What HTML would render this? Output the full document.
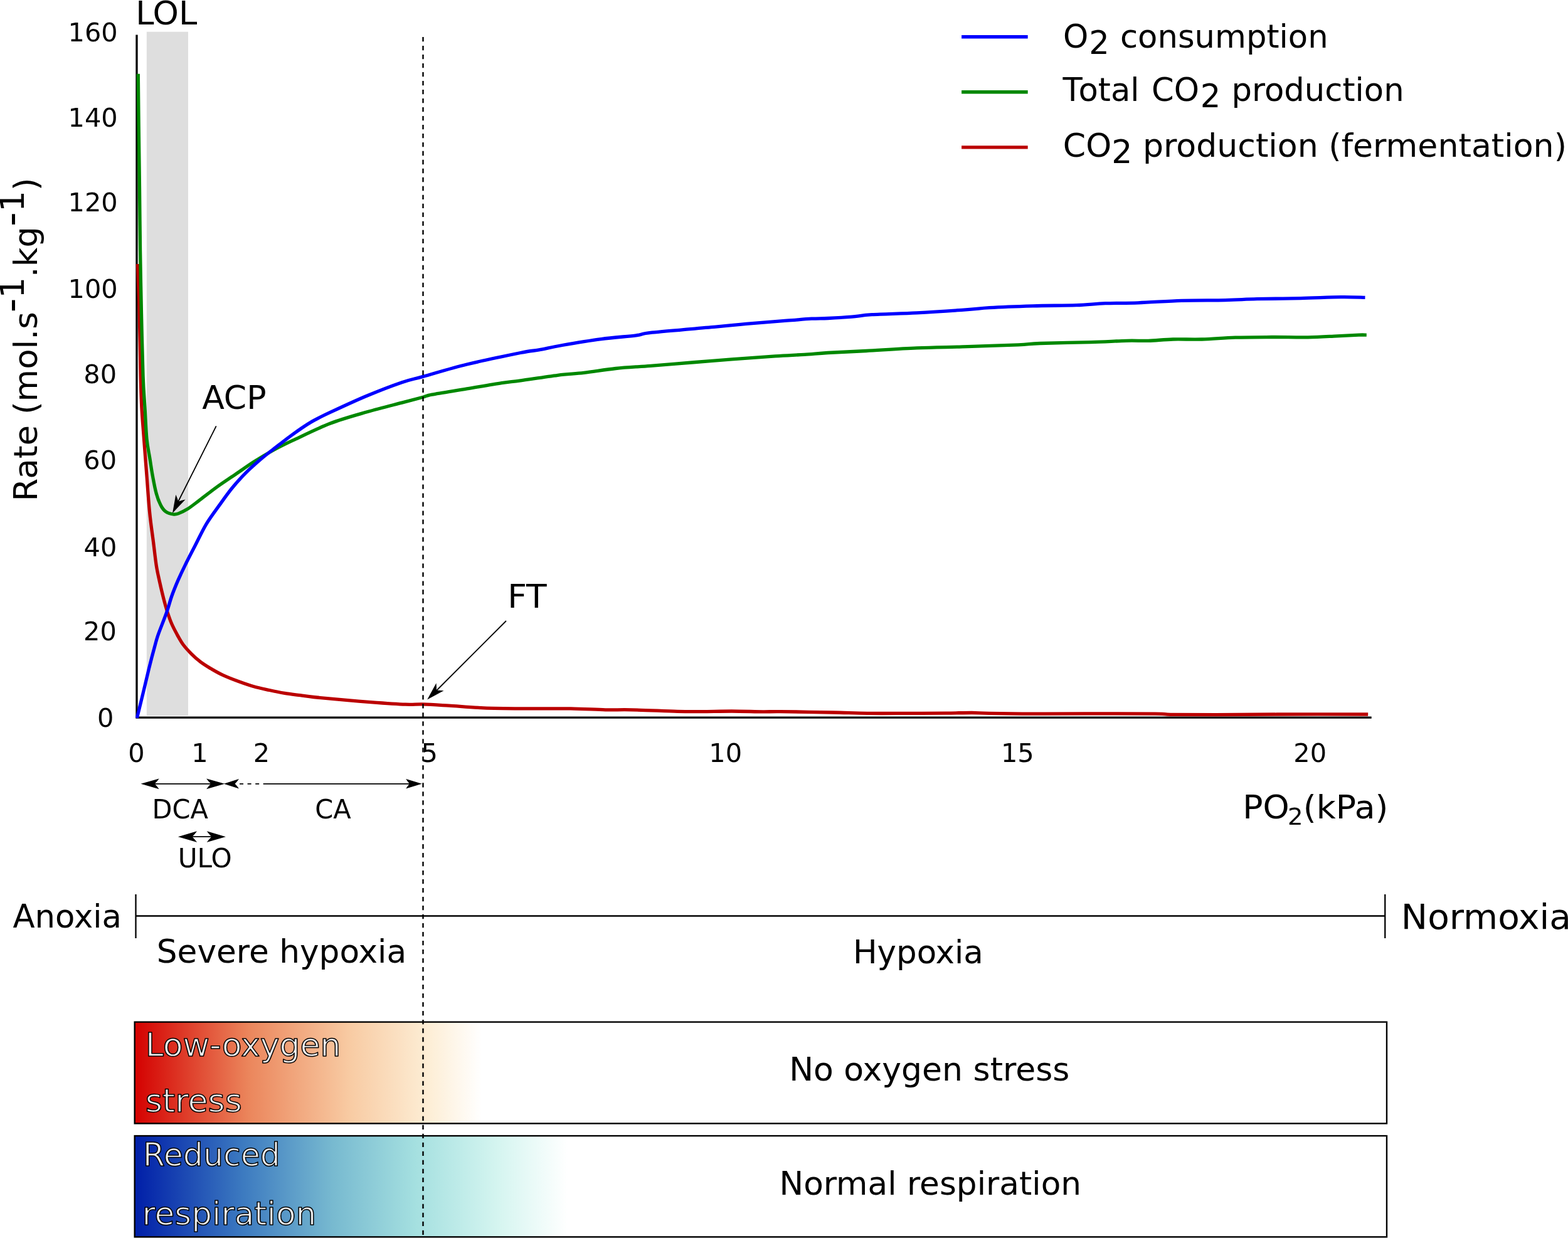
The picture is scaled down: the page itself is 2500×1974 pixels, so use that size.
<!DOCTYPE html>
<html lang="en"><head><meta charset="utf-8"><title>Respiration rate vs PO2</title>
<style>html,body{margin:0;padding:0;background:#fff;overflow:hidden}svg{display:block}text{font-family:"DejaVu Sans","Liberation Sans",sans-serif;fill:#000}.nk{font-kerning:none}.g{fill:#ececec;stroke:#000;stroke-width:1.5px;stroke-linejoin:round}</style></head><body>
<svg width="2500" height="1974" viewBox="0 0 2500 1974">
<defs>
<linearGradient id="gr" x1="214" x2="768" y1="0" y2="0" gradientUnits="userSpaceOnUse"><stop offset="0" stop-color="#d40000"/><stop offset="0.33" stop-color="#eb865c"/><stop offset="0.62" stop-color="#f8cba3"/><stop offset="0.85" stop-color="#fdeed6"/><stop offset="1" stop-color="#ffffff"/></linearGradient>
<linearGradient id="gb" x1="214" x2="905" y1="0" y2="0" gradientUnits="userSpaceOnUse"><stop offset="0" stop-color="#001ea8"/><stop offset="0.25" stop-color="#3c7ac0"/><stop offset="0.46" stop-color="#78bad0"/><stop offset="0.65" stop-color="#a5e0e0"/><stop offset="0.84" stop-color="#d5f5f0"/><stop offset="1" stop-color="#ffffff"/></linearGradient>
</defs>
<rect width="2500" height="1974" fill="#fff"/>
<rect x="233.8" y="50.7" width="66.2" height="1090.4" fill="#dedede"/>
<path d="M218 55.5V1144.1H2186.7" fill="none" stroke="#000" stroke-width="3.3" stroke-linejoin="miter"/>
<path d="M219.5 421.0C219.9 434.2 221.4 470.2 222.2 500.0C223.0 529.8 223.6 575.0 224.2 600.0C224.8 625.0 225.0 633.3 225.9 650.0C226.8 666.7 228.2 681.9 229.5 700.0C230.8 718.1 232.5 739.0 234.0 758.5C235.5 778.0 236.8 799.4 238.6 817.0C240.3 834.6 242.7 850.0 244.5 864.0C246.3 878.0 247.6 891.0 249.2 901.3C250.8 911.6 252.2 917.1 254.1 925.9C256.0 934.6 258.5 945.3 260.7 953.8C262.9 962.3 265.0 969.9 267.2 976.7C269.4 983.5 271.3 989.1 273.8 994.8C276.3 1000.5 279.0 1005.6 282.0 1011.1C285.0 1016.6 288.0 1022.3 291.8 1027.5C295.6 1032.7 300.2 1037.6 304.9 1042.3C309.5 1047.0 314.5 1051.4 319.7 1055.4C324.9 1059.4 330.1 1062.5 336.1 1066.1C342.1 1069.6 348.3 1073.3 355.7 1076.7C363.1 1080.1 372.1 1083.6 380.3 1086.6C388.5 1089.6 396.7 1092.5 404.9 1094.8C413.1 1097.1 421.3 1098.7 429.5 1100.5C437.7 1102.3 445.9 1104.0 454.1 1105.4C462.3 1106.8 471.1 1107.7 478.7 1108.7C486.3 1109.7 490.5 1110.5 500.0 1111.5C509.5 1112.5 520.3 1113.6 535.5 1114.9C550.7 1116.2 572.5 1118.2 591.0 1119.6C609.5 1121.0 632.5 1122.7 646.4 1123.2C660.3 1123.8 662.6 1122.6 674.2 1122.9C685.8 1123.2 699.6 1124.2 715.8 1125.2C732.0 1126.2 750.5 1128.0 771.3 1128.8C792.1 1129.6 817.5 1129.7 840.6 1129.9C863.7 1130.1 889.2 1129.6 910.0 1129.9C930.8 1130.2 949.2 1131.5 965.4 1131.8C981.6 1132.1 987.9 1131.4 1007.0 1131.8C1026.1 1132.2 1061.3 1133.8 1080.0 1134.3C1098.7 1134.8 1104.9 1134.6 1119.3 1134.6C1133.7 1134.5 1150.3 1134.0 1166.5 1134.0C1182.7 1134.0 1203.5 1134.8 1216.4 1134.9C1229.4 1135.0 1225.7 1134.4 1244.2 1134.6C1262.7 1134.8 1304.3 1135.5 1327.4 1136.0C1350.5 1136.5 1364.4 1137.2 1382.9 1137.4C1401.4 1137.6 1417.5 1137.5 1438.3 1137.4C1459.1 1137.4 1489.2 1137.2 1507.7 1137.1C1526.2 1136.9 1537.8 1136.5 1549.3 1136.5C1560.8 1136.5 1560.2 1137.1 1577.0 1137.4C1593.8 1137.7 1624.3 1138.1 1650.0 1138.2C1675.7 1138.3 1699.0 1137.9 1731.0 1137.9C1763.0 1137.9 1818.8 1138.0 1841.9 1138.2C1865.0 1138.4 1853.5 1139.1 1869.7 1139.3C1885.9 1139.5 1911.3 1139.6 1939.0 1139.6C1966.7 1139.5 1995.7 1139.1 2036.1 1139.0C2076.5 1138.9 2157.0 1139.0 2181.2 1139.0" fill="none" stroke="#bb0000" stroke-width="5.3" stroke-linejoin="round"/>
<path d="M220.3 117.8C220.5 131.5 220.8 169.6 221.2 200.0C221.6 230.4 222.1 266.7 222.5 300.0C222.9 333.3 223.1 366.7 223.6 400.0C224.1 433.3 224.8 466.7 225.5 500.0C226.2 533.3 227.2 575.0 228.1 600.0C229.0 625.0 230.0 633.3 231.0 650.0C232.0 666.7 232.7 686.8 234.0 700.0C235.3 713.2 237.0 719.5 238.6 729.3C240.2 739.0 241.5 748.9 243.3 758.5C245.1 768.1 247.0 778.9 249.2 786.7C251.3 794.5 253.7 800.5 256.2 805.4C258.7 810.3 261.1 813.5 264.4 815.9C267.7 818.3 272.8 819.5 276.1 820.0C279.4 820.5 280.4 820.4 284.3 818.9C288.2 817.4 294.0 814.6 299.5 811.2C305.0 807.8 309.3 804.2 317.1 798.4C324.9 792.5 336.6 783.1 346.4 776.1C356.1 769.1 365.9 762.8 375.6 756.2C385.4 749.6 395.1 742.5 404.9 736.3C414.7 730.0 423.8 724.4 434.2 718.7C444.6 713.0 451.7 709.4 467.0 702.2C482.3 695.0 506.5 682.9 526.2 675.3C545.9 667.7 566.2 662.3 585.3 656.8C604.4 651.3 625.9 646.0 640.8 642.1C655.7 638.2 666.5 635.4 674.5 633.2C682.5 631.0 677.2 631.3 688.9 629.1C700.5 626.9 725.9 623.0 744.4 619.9C762.9 616.8 785.6 612.8 799.9 610.6C814.2 608.4 815.1 609.0 830.0 606.9C844.9 604.8 872.5 600.4 889.3 598.3C906.1 596.2 915.6 596.2 931.0 594.4C946.4 592.6 964.1 589.4 981.8 587.5C999.5 585.6 1016.1 585.0 1037.3 583.3C1058.5 581.6 1087.4 579.2 1109.0 577.5C1130.6 575.8 1145.5 574.5 1166.7 572.9C1187.9 571.3 1216.8 569.1 1236.1 567.8C1255.4 566.5 1268.3 566.2 1282.3 565.3C1296.3 564.4 1303.6 563.5 1320.0 562.5C1336.4 561.5 1357.3 560.8 1380.9 559.5C1404.5 558.2 1434.8 556.0 1461.8 554.9C1488.8 553.8 1515.7 553.5 1542.7 552.6C1569.7 551.8 1604.3 550.6 1623.6 549.8C1642.9 548.9 1639.0 548.2 1658.3 547.5C1677.6 546.8 1716.2 546.3 1739.2 545.6C1762.2 544.9 1780.9 543.7 1796.2 543.3C1811.5 542.9 1818.6 543.7 1830.9 543.3C1843.2 542.9 1856.0 541.4 1870.2 541.0C1884.5 540.6 1899.8 541.5 1916.4 541.0C1933.0 540.5 1951.1 538.8 1969.6 538.2C1988.1 537.6 2008.1 537.6 2027.4 537.5C2046.7 537.4 2067.9 538.1 2085.2 537.8C2102.5 537.5 2117.9 536.5 2131.4 535.9C2144.9 535.3 2158.2 534.4 2166.1 534.1C2174.0 533.8 2176.7 534.1 2178.8 534.1" fill="none" stroke="#008800" stroke-width="5.3" stroke-linejoin="round"/>
<path d="M218.4 1144.8C220.0 1138.4 224.7 1119.5 227.9 1106.2C231.1 1092.9 234.6 1077.8 237.7 1065.2C240.8 1052.6 244.2 1039.8 246.7 1030.8C249.2 1021.8 249.3 1020.1 252.5 1011.1C255.7 1002.1 262.1 986.8 265.6 976.7C269.2 966.6 270.8 959.0 273.8 950.5C276.8 942.0 280.1 934.1 283.6 925.9C287.2 917.7 290.5 910.6 295.1 901.3C299.7 891.9 305.6 880.7 311.2 869.8C316.8 858.9 322.4 846.5 328.8 835.8C335.2 825.1 343.1 814.9 349.9 805.4C356.7 795.9 362.8 787.1 369.8 778.5C376.8 769.9 384.2 761.7 392.0 753.9C399.8 746.1 409.6 737.6 416.6 731.6C423.6 725.6 426.1 723.9 434.2 717.6C442.3 711.3 454.7 701.3 465.1 693.8C475.5 686.3 485.8 678.9 496.6 672.6C507.4 666.3 515.1 662.8 529.9 655.9C544.7 649.0 566.8 638.7 585.3 631.0C603.8 623.3 625.9 614.8 640.8 609.7C655.7 604.6 657.2 605.2 674.5 600.4C691.8 595.6 718.5 587.3 744.4 581.0C770.3 574.7 810.9 566.4 830.0 562.5C849.1 558.6 848.2 559.9 859.3 557.9C870.3 555.9 879.7 553.4 896.3 550.5C912.9 547.6 939.1 543.2 958.7 540.6C978.4 538.0 1000.7 536.5 1014.2 534.8C1027.7 533.1 1018.0 532.5 1039.6 530.2C1061.2 527.9 1118.5 523.2 1143.6 520.9C1168.6 518.6 1171.4 517.9 1189.9 516.3C1208.4 514.7 1237.3 512.5 1254.6 511.2C1271.9 509.9 1283.0 508.8 1293.9 508.2C1304.8 507.6 1309.3 508.0 1320.0 507.5C1330.7 507.0 1346.1 506.2 1357.8 505.2C1369.5 504.2 1372.9 502.8 1390.2 501.7C1407.5 500.6 1436.4 500.2 1461.8 498.9C1487.2 497.5 1523.4 495.0 1542.7 493.6C1562.0 492.2 1560.1 491.6 1577.4 490.6C1594.7 489.6 1623.6 488.5 1646.7 487.8C1669.8 487.1 1696.8 487.4 1716.1 486.7C1735.4 486.0 1745.9 484.3 1762.3 483.7C1778.7 483.1 1794.4 483.5 1814.7 482.8C1835.0 482.1 1861.0 480.0 1884.1 479.3C1907.2 478.6 1933.4 479.0 1953.4 478.6C1973.4 478.2 1984.3 477.2 2004.3 476.7C2024.3 476.2 2051.3 476.1 2073.6 475.6C2095.9 475.1 2121.2 473.9 2138.3 473.7C2155.5 473.5 2170.1 474.3 2176.5 474.4" fill="none" stroke="#0000ff" stroke-width="5.3" stroke-linejoin="round"/>
<rect x="214.7" y="1629.6" width="1996.3" height="161.8" fill="url(#gr)" stroke="#000" stroke-width="2.4"/>
<rect x="214.7" y="1811.1" width="1996.3" height="161.2" fill="url(#gb)" stroke="#000" stroke-width="2.4"/>
<path d="M216.5 1426V1496M216.5 1460.5H2208.3M2208.3 1426V1496" fill="none" stroke="#000" stroke-width="2.3"/>
<path d="M674.5 59V1974" fill="none" stroke="#000" stroke-width="2.4" stroke-dasharray="7.3 6.69"/>
<path d="M1533.1 58.7H1638.7" stroke="#0000ff" stroke-width="5.4" fill="none"/>
<path d="M1533.1 146.8H1638.7" stroke="#008800" stroke-width="5.4" fill="none"/>
<path d="M1533.1 234.9H1638.7" stroke="#bb0000" stroke-width="5.4" fill="none"/>
<text transform="translate(1695.00 76.30) scale(0.9990 1)"><tspan font-size="51.3">O</tspan><tspan font-size="51.3" dx="0.86" dy="9.80">2</tspan><tspan font-size="51.3" dx="0.80" dy="-9.80"> consumption</tspan></text>
<text transform="translate(1694.50 161.30) scale(0.9990 1)"><tspan font-size="51.3">T</tspan><tspan font-size="51.3" dx="-6.30">otal</tspan><tspan font-size="51.3" dx="3.21"> CO</tspan><tspan font-size="51.3" dx="1.49" dy="9.80">2</tspan><tspan font-size="51.3" dx="0.90" dy="-9.80"> production</tspan></text>
<text font-size="51.3" transform="translate(1694.75 249.80) scale(1.0162 1)">CO<tspan dy="9.8">2</tspan><tspan dy="-9.8"> production (fermentation)</tspan></text>
<text font-size="41.5" transform="translate(108.50 66.00)">160</text>
<text font-size="41.5" transform="translate(108.50 202.30)">140</text>
<text font-size="41.5" transform="translate(108.50 337.40)">120</text>
<text font-size="41.5" transform="translate(108.50 475.40)">100</text>
<text font-size="41.5" transform="translate(133.30 611.10)">80</text>
<text font-size="41.5" transform="translate(133.30 747.70)">60</text>
<text font-size="41.5" transform="translate(133.50 886.50)">40</text>
<text font-size="41.5" transform="translate(133.00 1020.90)">20</text>
<text font-size="41.5" transform="translate(154.90 1158.80)">0</text>
<text font-size="41.5" transform="translate(204.30 1215.20)">0</text>
<text font-size="41.5" transform="translate(305.30 1215.20)">1</text>
<text font-size="41.5" transform="translate(403.80 1215.20)">2</text>
<text font-size="41.5" transform="translate(671.60 1215.20)">5</text>
<text font-size="41.5" transform="translate(1130.25 1215.20)">10</text>
<text font-size="41.5" transform="translate(1595.95 1215.20)">15</text>
<text font-size="41.5" transform="translate(2062.30 1215.20)">20</text>
<text transform="translate(58.60 799.39) rotate(-90) scale(1.0190 1)"><tspan font-size="52">Rate (mol.s</tspan><tspan font-size="62" dx="-0.89" dy="-19.80">-</tspan><tspan font-size="52" dx="-0.11" dy="-0.90">1</tspan><tspan font-size="52" dx="-0.46" dy="20.70">.kg</tspan><tspan font-size="62" dx="0.08" dy="-19.80">-</tspan><tspan font-size="52" dx="0.29" dy="-0.90">1</tspan><tspan font-size="52" dx="0.10" dy="20.70">)</tspan></text>
<text font-size="52" transform="translate(216.15 39.30) scale(1.0109 1)">LOL</text>
<text font-size="52" transform="translate(322.20 652.20)">ACP</text>
<text font-size="51.3" transform="translate(809.19 969.00) scale(1.0418 1)">FT</text>
<text font-size="42" transform="translate(242.55 1305.30) scale(0.9884 1)">DCA</text>
<text font-size="42" transform="translate(502.22 1305.30) scale(0.9909 1)">CA</text>
<text font-size="42" transform="translate(283.69 1383.40) scale(1.0038 1)">ULO</text>
<text transform="translate(1981.18 1305.10) scale(1.0450 1)"><tspan font-size="51.3">PO</tspan><tspan font-size="37" dx="-2.54" dy="10.30">2</tspan><tspan font-size="51.3" dx="0.22" dy="-10.30">(kPa)</tspan></text>
<text font-size="51.3" transform="translate(20.50 1479.30) scale(1.0006 1)">Anoxia</text>
<text font-size="55.5" transform="translate(2233.79 1481.30) scale(1.0204 1)">Normoxia</text>
<text font-size="51.3" transform="translate(249.77 1535.30) scale(1.0083 1)">Severe hypoxia</text>
<text font-size="51.3" transform="translate(1359.88 1536.10) scale(1.0030 1)">Hypoxia</text>
<text font-size="51.3" transform="translate(1258.13 1722.50) scale(1.0138 1)">No oxygen stress</text>
<text font-size="51.3" transform="translate(1242.46 1905.00) scale(1.0081 1)">Normal respiration</text>
<text class="g" font-size="51.3" transform="translate(231.73 1684.30) scale(1.0134 1)">Low-oxygen</text>
<text class="g" font-size="51.3" transform="translate(231.65 1772.70) scale(1.0164 1)">stress</text>
<text class="g" font-size="51.3" transform="translate(227.87 1858.90) scale(0.9859 1)">Reduced</text>
<text class="g" font-size="51.3" transform="translate(226.47 1952.50) scale(1.0071 1)">respiration</text>
<path d="M344.7 679.4L281.0 806.0" stroke="#000" stroke-width="1.8" fill="none"/>
<path d="M275.0 818.3L280.3 788.8Q283.2 795.2 284.3 799.8Q288.6 797.9 295.5 796.5Z" fill="#000"/>
<path d="M807.0 990.0L690.0 1107.0" stroke="#000" stroke-width="1.8" fill="none"/>
<path d="M681.2 1115.6L695.5 1089.3Q696.3 1096.3 695.8 1101.0Q700.5 1100.5 707.5 1101.3Z" fill="#000"/>
<path d="M240.0 1249.8L345.0 1249.8" stroke="#000" stroke-width="1.8" fill="none"/>
<path d="M224.5 1249.8L253.7 1241.4Q249.7 1246.9 246.5 1249.8Q249.7 1252.7 253.7 1258.2Z" fill="#000"/>
<path d="M358.3 1249.8L329.1 1258.2Q333.1 1252.7 336.3 1249.8Q333.1 1246.9 329.1 1241.4Z" fill="#000"/>
<path d="M356.8 1249.8L381.0 1242.0Q377.5 1247.1 374.6 1249.8Q377.5 1252.5 381.0 1257.6Z" fill="#000"/>
<path d="M382.0 1249.8L419.7 1249.8" stroke="#000" stroke-width="1.8" fill="none" stroke-dasharray="6 6.6"/>
<path d="M419.7 1249.8L655.0 1249.8" stroke="#000" stroke-width="1.8" fill="none"/>
<path d="M672.7 1249.8L647.2 1257.6Q650.4 1252.5 653.0 1249.8Q650.4 1247.1 647.2 1242.0Z" fill="#000"/>
<path d="M300.0 1334.2L345.0 1334.2" stroke="#000" stroke-width="1.8" fill="none"/>
<path d="M283.9 1334.2L314.1 1325.3Q309.9 1331.1 306.4 1334.2Q309.9 1337.3 314.1 1343.1Z" fill="#000"/>
<path d="M359.9 1334.2L329.7 1343.1Q333.9 1337.3 337.4 1334.2Q333.9 1331.1 329.7 1325.3Z" fill="#000"/>
</svg></body></html>
